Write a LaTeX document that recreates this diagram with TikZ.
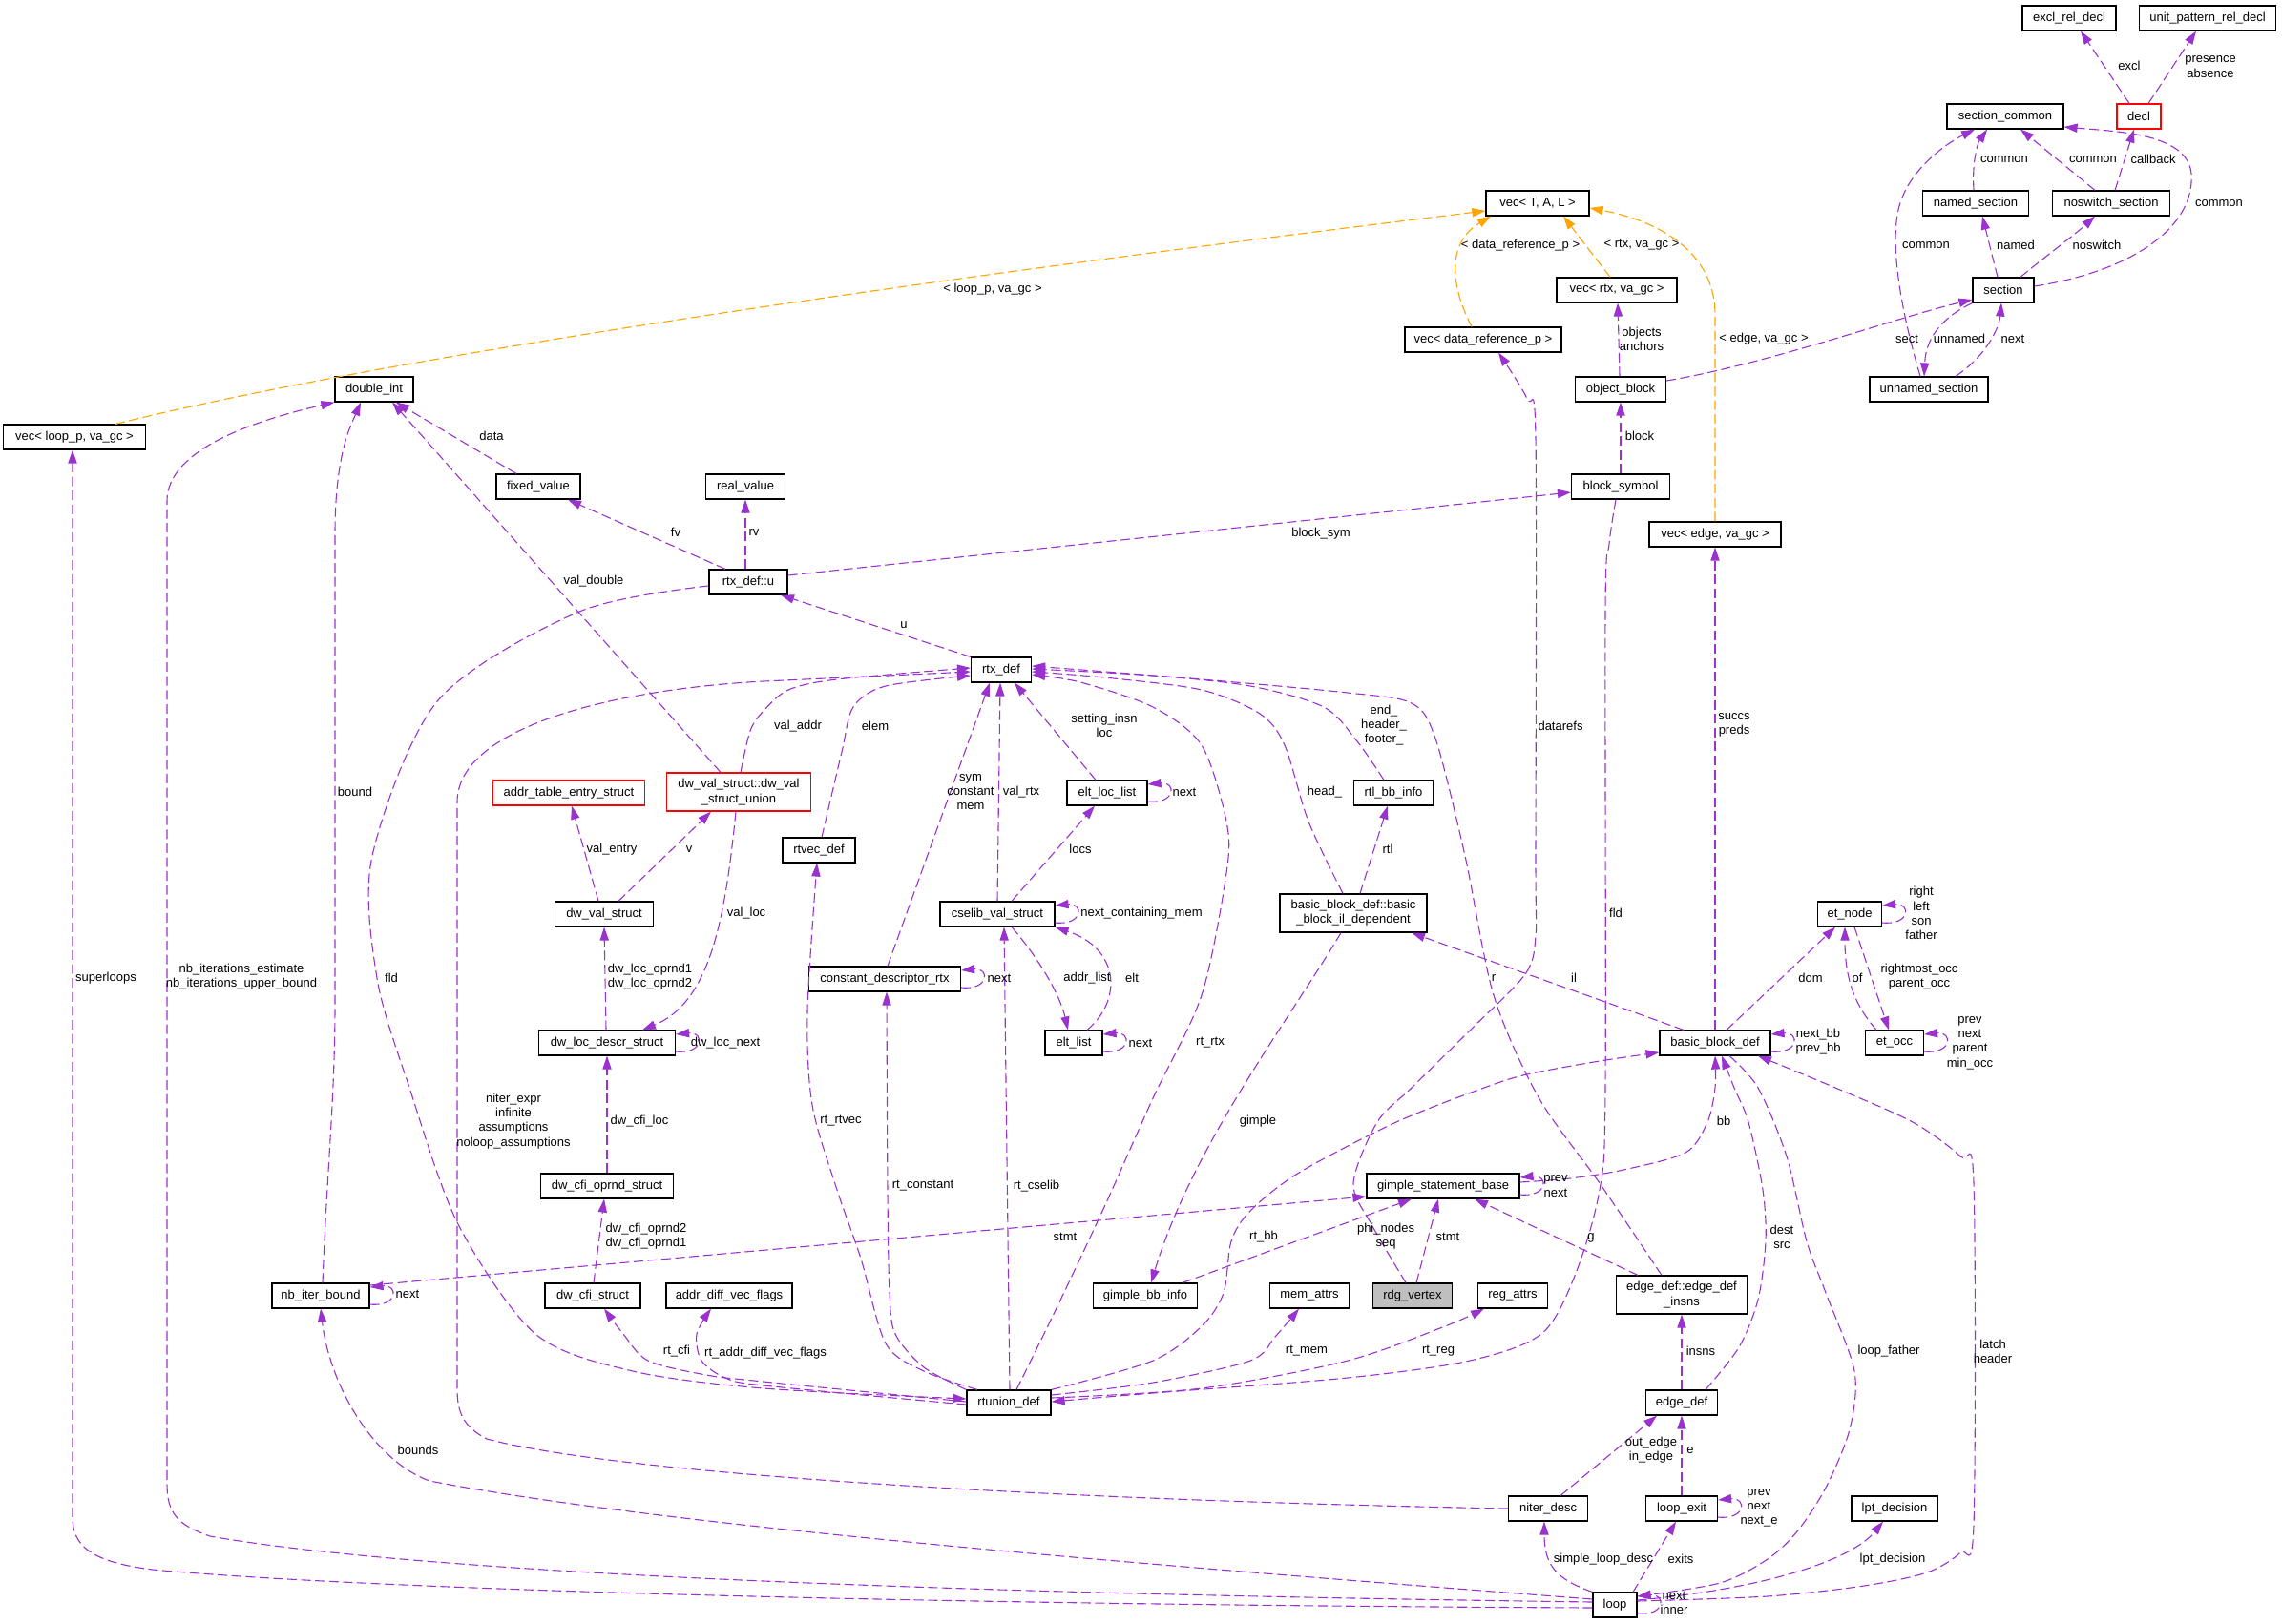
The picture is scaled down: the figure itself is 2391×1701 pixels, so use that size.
\documentclass[tikz,border=0pt]{standalone}
\usepackage{fontspec}
\setmainfont{Liberation Sans}
\usetikzlibrary{arrows.meta,calc}
\definecolor{orch}{RGB}{154,50,205}
\definecolor{tmplor}{RGB}{255,165,0}
\definecolor{greyfill}{RGB}{191,191,191}
\newcommand\dxf{\fontsize{6.5pt}{7.6pt}\selectfont}
\newcommand\selfloop[1]{\draw[rel] ($(#1.east)+(0,9)$) .. controls ($(#1.east)+(30,12)$) and ($(#1.east)+(30,-12)$) .. ($(#1.east)+(0,-9)$);}
\begin{document}
\begin{tikzpicture}[x=0.5pt,y=-0.5pt,
  cls/.style={draw=black, line width=0.6pt, fill=white, minimum height=13pt, inner sep=1pt, font=\dxf},
  cls2/.style={cls, minimum height=20pt, align=center},
  lbl/.style={inner sep=0pt, font=\dxf, align=center},
  rel/.style={draw=orch, line width=0.55pt, dash pattern=on 5pt off 2.3pt, -{Triangle[length=7pt,width=4.6pt]}},
  tmpl/.style={rel, draw=tmplor}]
\fill[white] (0,0) rectangle (2391,1701);
\useasboundingbox (0,0) rectangle (2391,1701);

% ---------------- nodes ----------------
\node[cls, minimum width=49pt] (exrd) at (2168,19) {excl\_rel\_decl};
\node[cls, minimum width=71.5pt] (uprd) at (2313,19) {unit\_pattern\_rel\_decl};
\node[cls, minimum width=61pt] (sc) at (2101,122) {section\_common};
\node[cls, draw=red, minimum width=23pt] (decl) at (2241,122) {decl};
\node[cls, minimum width=54pt] (vtal) at (1611,213) {vec< T, A, L >};
\node[cls, minimum width=55.5pt] (nsec) at (2070,213) {named\_section};
\node[cls, minimum width=61.5pt] (nswsec) at (2212,213) {noswitch\_section};
\node[cls, minimum width=63pt] (vrtx) at (1694,304) {vec< rtx, va\_gc >};
\node[cls, minimum width=32pt] (sect) at (2099,304) {section};
\node[cls, minimum width=82pt] (vdr) at (1554,356) {vec< data\_reference\_p >};
\node[cls, minimum width=47.5pt] (ob) at (1698,408) {object\_block};
\node[cls, minimum width=62pt] (unsec) at (2021,408) {unnamed\_section};
\node[cls, minimum width=41pt] (di) at (392,408) {double\_int};
\node[cls, minimum width=74.5pt] (vlp) at (78,458) {vec< loop\_p, va\_gc >};
\node[cls, minimum width=44pt] (fv) at (564,510) {fixed\_value};
\node[cls, minimum width=41.5pt] (rv) at (781,510) {real\_value};
\node[cls, minimum width=51.5pt] (bs) at (1698,510) {block\_symbol};
\node[cls, minimum width=69pt] (vedge) at (1797,560) {vec< edge, va\_gc >};
\node[cls, minimum width=41pt] (rxu) at (784,610) {rtx\_def::u};
\node[cls, minimum width=31.5pt] (rx) at (1049,702) {rtx\_def};
\node[cls, draw=red, minimum width=79.5pt] (ate) at (596,831) {addr\_table\_entry\_struct};
\node[cls2, draw=red, minimum width=75.5pt] (dvu) at (774,830) {dw\_val\_struct::dw\_val\\\_struct\_union};
\node[cls, minimum width=42pt] (ell) at (1160,831) {elt\_loc\_list};
\node[cls, minimum width=41.5pt] (rbi) at (1460,831) {rtl\_bb\_info};
\node[cls, minimum width=38pt] (rvd) at (858,891) {rtvec\_def};
\node[cls, minimum width=33.5pt] (etn) at (1938,958) {et\_node};
\node[cls, minimum width=51.5pt] (dvs) at (633,958) {dw\_val\_struct};
\node[cls, minimum width=60pt] (csv) at (1045,958) {cselib\_val\_struct};
\node[cls2, minimum width=77pt] (bbil) at (1418,957) {basic\_block\_def::basic\\\_block\_il\_dependent};
\node[cls, minimum width=79.5pt] (cdr) at (927,1026) {constant\_descriptor\_rtx};
\node[cls, minimum width=71.5pt] (dlds) at (636,1093) {dw\_loc\_descr\_struct};
\node[cls, minimum width=30pt] (elst) at (1125,1093) {elt\_list};
\node[cls, minimum width=58pt] (bbd) at (1797,1093) {basic\_block\_def};
\node[cls, minimum width=30.5pt] (eto) at (1985,1093) {et\_occ};
\node[cls, minimum width=69.5pt] (dcos) at (636,1243) {dw\_cfi\_oprnd\_struct};
\node[cls, minimum width=80pt] (gsb) at (1512,1243) {gimple\_statement\_base};
\node[cls, minimum width=51pt] (nib) at (336,1358) {nb\_iter\_bound};
\node[cls, minimum width=50pt] (dcs) at (621,1358) {dw\_cfi\_struct};
\node[cls, minimum width=66pt] (adv) at (764,1358) {addr\_diff\_vec\_flags};
\node[cls, minimum width=54.5pt] (gbi) at (1200,1358) {gimple\_bb\_info};
\node[cls, minimum width=41.5pt] (mema) at (1372,1358) {mem\_attrs};
\node[cls, fill=greyfill, minimum width=41.5pt] (rdg) at (1480,1358) {rdg\_vertex};
\node[cls, minimum width=36.5pt] (rega) at (1585,1358) {reg\_attrs};
\node[cls2, minimum width=68.5pt] (edi) at (1762,1357) {edge\_def::edge\_def\\\_insns};
\node[cls, minimum width=44pt] (rtu) at (1057,1470) {rtunion\_def};
\node[cls, minimum width=37.5pt] (ed) at (1762,1470) {edge\_def};
\node[cls, minimum width=41.5pt] (nid) at (1622,1581) {niter\_desc};
\node[cls, minimum width=37.5pt] (lex) at (1762,1581) {loop\_exit};
\node[cls, minimum width=45pt] (lpt) at (1985,1581) {lpt\_decision};
\node[cls, minimum width=23pt] (lp) at (1692,1682) {loop};

% ---------------- template edges ----------------
\draw[tmpl] (vlp.north -| 121,0) .. controls (300,400) and (700,325) .. (vtal.west |- 0,221);
\draw[tmpl] (vdr.north -| 1542,0) .. controls (1520,300) and (1515,255) .. (vtal.south -| 1562,0);
\draw[tmpl] (vrtx.north -| 1687,0) -- (vtal.south -| 1638,0);
\draw[tmpl] (vedge.north) -- (1797,330) .. controls (1797,265) and (1740,232) .. (vtal.east |- 0,218);

% ---------------- usage edges ----------------
\draw[rel] (decl.north -| 2231,0) -- (exrd.south -| 2180,0);
\draw[rel] (decl.north -| 2251,0) -- (uprd.south -| 2301,0);
\draw[rel] (nsec.north -| 2068,0) .. controls (2066,170) and (2072,150) .. (sc.south -| 2082,0);
\draw[rel] (nswsec.north -| 2195,0) -- (sc.south -| 2117,0);
\draw[rel] (nswsec.north -| 2216,0) -- (decl.south -| 2236,0);
\draw[rel] (sect.east |- 0,300) .. controls (2230,285) and (2300,240) .. (2296,182) .. controls (2292,140) and (2220,138) .. (sc.east |- 0,133);
\draw[rel] (unsec.north -| 2012,0) .. controls (1990,320) and (1982,260) .. (1988,225) .. controls (1995,180) and (2040,150) .. (sc.south -| 2069,0);
\draw[rel] (sect.south west) .. controls (2040,330) and (2018,350) .. (unsec.north -| 2016,0);
\draw[rel] (unsec.north -| 2049,0) .. controls (2085,370) and (2095,340) .. (sect.south -| 2097,0);
\draw[rel] (sect.north -| 2093,0) -- (nsec.south -| 2077,0);
\draw[rel] (sect.north -| 2117,0) .. controls (2135,275) and (2175,245) .. (nswsec.south -| 2195,0);
\draw[rel] (ob.north -| 1697,0) -- (vrtx.south -| 1695,0);
\draw[rel] (ob.east |- 0,399) .. controls (1850,382) and (1990,332) .. (sect.west |- 0,314);
\draw[rel] (bs.north) -- (ob.south);
\draw[rel] (rxu.east |- 0,603) -- (bs.west |- 0,516);
\draw[rel] (rxu.north -| 760,0) -- (fv.south -| 595,0);
\draw[rel] (rxu.north -| 781,0) -- (rv.south -| 781,0);
\draw[rel] (dvu.north -| 755,0) -- (di.south -| 411,0);
\draw[rel] (fv.north -| 541,0) -- (di.south -| 415,0);
\draw[rel] (rx.north west) -- (rxu.south -| 818,0);
\draw[rel] (nib.north -| 338,0) .. controls (343,1220) and (351,1150) .. (351,1050) -- (351,560) .. controls (351,475) and (368,445) .. (di.south -| 378,0);
\draw[rel] (lp.west |- 0,1679) .. controls (1000,1670) and (450,1650) .. (220,1610) .. controls (185,1598) and (175,1585) .. (175,1555) -- (175,525) .. controls (175,470) and (270,440) .. (di.south west);
\draw[rel] (lp.west |- 0,1685) .. controls (1000,1682) and (400,1667) .. (160,1645) .. controls (95,1637) and (76,1620) .. (76,1590) -- (vlp.south -| 76,0);
\draw[rel] (lp.west |- 0,1676) .. controls (1200,1640) and (700,1600) .. (450,1552) .. controls (390,1530) and (345,1450) .. (nib.south);
\draw[rel] (nid.west) .. controls (1100,1572) and (650,1545) .. (510,1508) .. controls (485,1495) and (479,1480) .. (479,1455) -- (479,840) .. controls (480,760) and (650,722) .. (800,714) -- (rx.west |- 0,704);
\draw[rel] plot[smooth] coordinates {(rxu.west |- 0,614) (607,641) (459,734) (390,897) (395,1025) (429,1140) (480,1283) (561,1398) (663,1437) (800,1455) (rtu.west |- 0,1466)};
\draw[rel] plot[smooth] coordinates {(dvu.north -| 776,0) (786,766) (800,745) (826,723) (877,712) (rx.west |- 0,700)};
\draw[rel] plot[smooth] coordinates {(rvd.north -| 861,0) (882,788) (894,741) (928,719) (rx.west |- 0,708)};
\draw[rel] (cdr.north -| 930,0) -- (rx.south -| 1037,0);
\draw[rel] (csv.north -| 1045,0) -- (rx.south -| 1048,0);
\draw[rel] (ell.north -| 1148,0) -- (rx.south -| 1063,0);
\draw[rel] plot[smooth] coordinates {(rtu.north -| 1065,0) (1106,1373) (1157,1265) (1208,1151) (1259,1043) (1285,915) (1285,861) (1259,781) (1208,741) (1132,715) (rx.east |- 0,707)};
\draw[rel] plot[smooth] coordinates {(bbil.north -| 1407,0) (1371,861) (1346,781) (1320,748) (1259,723) (1157,710) (rx.east |- 0,704)};
\draw[rel] plot[smooth] coordinates {(rbi.north -| 1450,0) (1422,777) (1387,741) (1310,719) (1208,708) (rx.east |- 0,701)};
\draw[rel] plot[smooth] coordinates {(edi.north -| 1741,0) (1676,1240) (1612,1150) (1565,1043) (1535,897) (1504,774) (1479,737) (1412,726) (1259,712) (rx.east |- 0,698)};
\draw[rel] plot[smooth] coordinates {(rtu.north -| 1024,0) (968,1437) (928,1408) (902,1319) (877,1247) (851,1158) (846,1060) (rvd.south -| 856,0)};
\draw[rel] plot[smooth] coordinates {(rtu.north west) (968,1433) (938,1398) (932,1355) (930,1250) (cdr.south -| 929,0)};
\draw[rel] (rtu.north -| 1058,0) -- (csv.south -| 1052,0);
\draw[rel] plot[smooth] coordinates {(rtu.north east) (1208,1426) (1259,1390) (1282,1355) (1290,1301) (1310,1269) (1361,1229) (1463,1176) (1555,1140) (1600,1126) (1676,1112) (bbd.west |- 0,1103)};
\draw[rel] plot[smooth] coordinates {(rtu.east |- 0,1462) (1208,1449) (1310,1426) (1336,1401) (mema.south -| 1361,0)};
\draw[rel] plot[smooth] coordinates {(rtu.east |- 0,1465) (1259,1455) (1412,1426) (1514,1390) (rega.south -| 1555,0)};
\draw[rel] plot[smooth] coordinates {(bs.south -| 1693,0) (1686,570) (1682,640) (1682,1140) (1676,1247) (1650,1337) (1615,1398) (1540,1426) (1412,1444) (1208,1460) (rtu.east |- 0,1469)};
\draw[rel] plot[smooth] coordinates {(rtu.west |- 0,1469) (800,1448) (740,1441) (679,1426) (653,1398) (dcs.south -| 633,0)};
\draw[rel] plot[smooth] coordinates {(rtu.west |- 0,1472) (800,1452) (760,1444) (735,1426) (730,1398) (adv.south -| 745,0)};
\draw[rel] plot[smooth] coordinates {(gsb.east |- 0,1239) (1645,1235) (1701,1226) (1766,1208) (1789,1176) (1797,1140) (bbd.south -| 1797,0)};
\draw[rel] plot[smooth] coordinates {(ed.north -| 1787,0) (1822,1412) (1842,1362) (1850,1301) (1847,1247) (1832,1176) (1817,1140) (bbd.south -| 1804,0)};
\draw[rel] plot[smooth] coordinates {(lp.east |- 0,1678) (1852,1673) (1953,1662) (2019,1648) (2054,1627) (2068,1598) (2068,1240) (2054,1212) (2004,1176) (1923,1140) (bbd.south -| 1842,0)};
\draw[rel] plot[smooth] coordinates {(bbd.south -| 1812,0) (1842,1140) (1872,1212) (1893,1301) (1913,1355) (1943,1437) (1938,1498) (1913,1559) (1883,1605) (1852,1634) (1802,1659) (lp.east |- 0,1673)};
\draw[rel] (bbd.north -| 1809,0) -- (etn.south -| 1923,0);
\draw[rel] (bbd.north -| 1764,0) -- (bbil.south -| 1479,0);
\draw[rel] (bbd.north -| 1797,0) -- (vedge.south);
\draw[rel] (bbil.south -| 1405,0) .. controls (1350,1070) and (1250,1200) .. (gbi.north -| 1206,0);
\draw[rel] (bbil.north -| 1425,0) -- (rbi.south -| 1454,0);
\draw[rel] (gbi.north -| 1239,0) -- (gsb.south -| 1479,0);
\draw[rel] (rdg.north -| 1484,0) -- (gsb.south -| 1507,0);
\draw[rel] plot[smooth] coordinates {(rdg.north -| 1473,0) (1438,1285) (1418,1240) (1443,1176) (1479,1140) (1540,1080) (1598,1021) (1609,981) (1609,900) (1609,460) (1600,418) (vdr.south -| 1570,0)};
\draw[rel] (nib.east |- 0,1347) -- (gsb.west |- 0,1254);
\draw[rel] (edi.north -| 1716,0) -- (gsb.south -| 1545,0);
\draw[rel] (ed.north) -- (edi.south);
\draw[rel] (lex.north) -- (ed.south);
\draw[rel] (nid.north -| 1635,0) -- (ed.south -| 1736,0);
\draw[rel] (lp.north west) .. controls (1630,1655) and (1618,1640) .. (nid.south -| 1618,0);
\draw[rel] (lp.north -| 1711,0) -- (lex.south -| 1756,0);
\draw[rel] (lp.east |- 0,1677) .. controls (1850,1665) and (1940,1635) .. (lpt.south -| 1973,0);
\draw[rel] (etn.south -| 1943,0) -- (eto.north -| 1979,0);
\draw[rel] (eto.north -| 1966,0) .. controls (1940,1050) and (1933,1020) .. (etn.south -| 1933,0);
\draw[rel] (csv.north -| 1060,0) -- (ell.south -| 1147,0);
\draw[rel] (csv.south -| 1060,0) .. controls (1085,1000) and (1110,1040) .. (elst.north -| 1119,0);
\draw[rel] (elst.north -| 1139,0) .. controls (1175,1050) and (1175,995) .. (csv.south east);
\draw[rel] (dvs.north -| 627,0) -- (ate.south -| 599,0);
\draw[rel] (dvs.north -| 648,0) -- (dvu.south -| 745,0);
\draw[rel] (dvu.south -| 771,0) .. controls (760,960) and (745,1050) .. (dlds.north -| 673,0);
\draw[rel] (dlds.north -| 635,0) -- (dvs.south -| 633,0);
\draw[rel] (dcos.north) -- (dlds.south);
\draw[rel] (dcs.north -| 622,0) -- (dcos.south -| 633,0);

% self loops
\selfloop{ell}
\selfloop{elst}
\selfloop{csv}
\selfloop{cdr}
\selfloop{dlds}
\selfloop{nib}
\selfloop{bbd}
\selfloop{etn}
\selfloop{eto}
\selfloop{gsb}
\selfloop{lex}
\selfloop{lp}

% ---------------- labels ----------------
\node[lbl] (t1) at (1040,303) {< loop\_p, va\_gc >};
\node[lbl] (t2) at (1593,257) {< data\_reference\_p >};
\node[lbl] (t3) at (1720,257) {< rtx, va\_gc >};
\node[lbl] (t4) at (1848,355) {< edge, va\_gc >};
\node[lbl] (t5) at (2231,69) {excl};
\node[lbl] (t6) at (2316,70) {presence\\absence};
\node[lbl] (t7) at (2100,167) {common};
\node[lbl] (t8) at (2193,167) {common};
\node[lbl] (t9) at (2256,167) {callback};
\node[lbl] (t10) at (2325,213) {common};
\node[lbl] (t11) at (2018,257) {common};
\node[lbl] (t12) at (2112,257) {named};
\node[lbl] (t13) at (2197,257) {noswitch};
\node[lbl] (t14) at (1720,355) {objects\\anchors};
\node[lbl] (t15) at (1998,355) {sect};
\node[lbl] (t16) at (2053,355) {unnamed};
\node[lbl] (t17) at (2109,355) {next};
\node[lbl] (t18) at (1718,457) {block};
\node[lbl] (t19) at (515,457) {data};
\node[lbl] (t20) at (708,558) {fv};
\node[lbl] (t21) at (790,558) {rv};
\node[lbl] (t22) at (1384,559) {block\_sym};
\node[lbl] (t23) at (622,609) {val\_double};
\node[lbl] (t24) at (947,655) {u};
\node[lbl] (t25) at (836,761) {val\_addr};
\node[lbl] (t26) at (917,761) {elem};
\node[lbl] (t27) at (1157,760) {setting\_insn\\loc};
\node[lbl] (t28) at (1450,760) {end\_\\header\_\\footer\_};
\node[lbl] (t29) at (1635,761) {datarefs};
\node[lbl] (t30) at (1817,760) {succs\\preds};
\node[lbl] (t31) at (372,830) {bound};
\node[lbl] (t32) at (1017,830) {sym\\constant\\mem};
\node[lbl] (t33) at (1070,830) {val\_rtx};
\node[lbl] (t34) at (1241,830) {next};
\node[lbl] (t35) at (1388,830) {head\_};
\node[lbl] (t36) at (641,890) {val\_entry};
\node[lbl] (t37) at (722,890) {v};
\node[lbl] (t38) at (1132,890) {locs};
\node[lbl] (t39) at (1454,890) {rtl};
\node[lbl] (t40) at (782,957) {val\_loc};
\node[lbl] (t41) at (1196,957) {next\_containing\_mem};
\node[lbl] (t42) at (1693,957) {fld};
\node[lbl] (t43) at (2013,957) {right\\left\\son\\father};
\node[lbl] (t44) at (111,1025) {superloops};
\node[lbl] (t45) at (253,1024) {nb\_iterations\_estimate\\nb\_iterations\_upper\_bound};
\node[lbl] (t46) at (410,1025) {fld};
\node[lbl] (t47) at (681,1024) {dw\_loc\_oprnd1\\dw\_loc\_oprnd2};
\node[lbl] (t48) at (1047,1025) {next};
\node[lbl] (t49) at (1139,1025) {addr\_list};
\node[lbl] (t50) at (1186,1025) {elt};
\node[lbl] (t51) at (1565,1025) {r};
\node[lbl] (t52) at (1649,1025) {il};
\node[lbl] (t53) at (1897,1025) {dom};
\node[lbl] (t54) at (1946,1025) {of};
\node[lbl] (t55) at (2011,1024) {rightmost\_occ\\parent\_occ};
\node[lbl] (t56) at (760,1093) {dw\_loc\_next};
\node[lbl] (t57) at (1195,1093) {next};
\node[lbl] (t58) at (1268,1093) {rt\_rtx};
\node[lbl] (t59) at (1905,1092) {next\_bb\\prev\_bb};
\node[lbl] (t60) at (2064,1093) {prev\\next\\parent\\min\_occ};
\node[lbl] (t61) at (538,1175) {niter\_expr\\infinite\\assumptions\\noloop\_assumptions};
\node[lbl] (t62) at (670,1175) {dw\_cfi\_loc};
\node[lbl] (t63) at (881,1175) {rt\_rtvec};
\node[lbl] (t64) at (1318,1175) {gimple};
\node[lbl] (t65) at (1806,1175) {bb};
\node[lbl] (t66) at (967,1243) {rt\_constant};
\node[lbl] (t67) at (1086,1243) {rt\_cselib};
\node[lbl] (t68) at (1630,1243) {prev\\next};
\node[lbl] (t69) at (677,1296) {dw\_cfi\_oprnd2\\dw\_cfi\_oprnd1};
\node[lbl] (t70) at (1116,1296) {stmt};
\node[lbl] (t71) at (1324,1296) {rt\_bb};
\node[lbl] (t72) at (1452,1296) {phi\_nodes\\seq};
\node[lbl] (t73) at (1517,1296) {stmt};
\node[lbl] (t74) at (1667,1297) {g};
\node[lbl] (t75) at (1867,1296) {dest\\src};
\node[lbl] (t76) at (427,1356) {next};
\node[lbl] (t77) at (709,1416) {rt\_cfi};
\node[lbl] (t78) at (802,1418) {rt\_addr\_diff\_vec\_flags};
\node[lbl] (t79) at (1369,1416) {rt\_mem};
\node[lbl] (t80) at (1507,1416) {rt\_reg};
\node[lbl] (t81) at (1782,1416) {insns};
\node[lbl] (t82) at (1979,1416) {loop\_father};
\node[lbl] (t83) at (2088,1416) {latch\\header};
\node[lbl] (t84) at (438,1520) {bounds};
\node[lbl] (t85) at (1730,1520) {out\_edge\\in\_edge};
\node[lbl] (t86) at (1771,1520) {e};
\node[lbl] (t87) at (1843,1580) {prev\\next\\next\_e};
\node[lbl] (t88) at (1680,1634) {simple\_loop\_desc};
\node[lbl] (t89) at (1761,1634) {exits};
\node[lbl] (t90) at (1983,1634) {lpt\_decision};
\node[lbl] (t91) at (1754,1680) {next\\inner};
\end{tikzpicture}
\end{document}
